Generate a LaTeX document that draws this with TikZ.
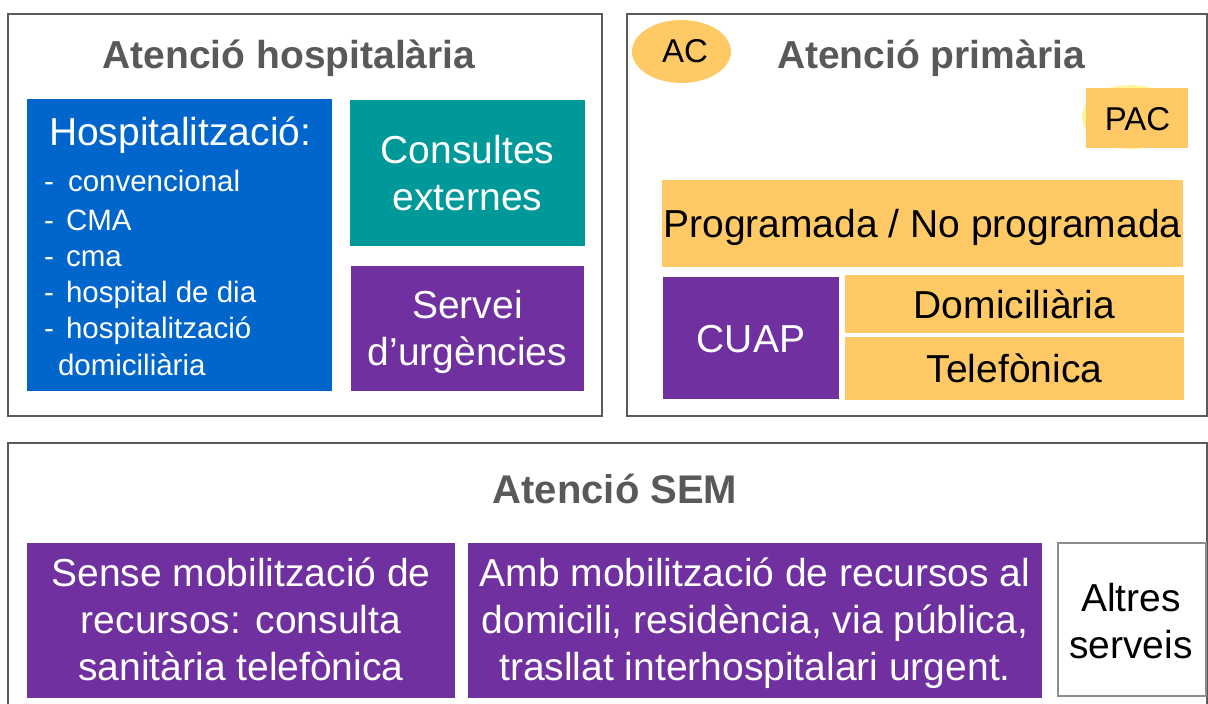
\documentclass[tikz,border=0pt]{standalone}
\usepackage{fontspec}
\setmainfont{Liberation Sans}
\usetikzlibrary{shapes.geometric}
\definecolor{hblue}{HTML}{0066CC}
\definecolor{hteal}{HTML}{009999}
\definecolor{hpurple}{HTML}{7030A0}
\definecolor{hyel}{HTML}{FFCA66}
\definecolor{hpale}{HTML}{FFF59A}
\definecolor{htitle}{HTML}{595959}
\definecolor{hframe}{HTML}{5A5A5A}
\definecolor{hgrayb}{HTML}{8C8C8C}
\newcommand\fsbody{\fontsize{39}{46.8}\selectfont}
\newcommand\fstitle{\fontsize{39}{46.8}\selectfont\bfseries}
\newcommand\fslist{\fontsize{29.5}{36.6}\selectfont}
\tikzset{
  box/.style={rectangle, inner sep=0pt, outer sep=0pt, anchor=north west, draw=none},
  frame/.style={rectangle, inner sep=0pt, outer sep=0pt, anchor=north west, draw=hframe, line width=2pt},
  txt/.style={inner sep=0pt, outer sep=0pt, anchor=base, align=center},
  ltxt/.style={inner sep=0pt, outer sep=0pt, anchor=base west},
  ttl/.style={txt, text=htitle, font=\fstitle},
}
\begin{document}
\begin{tikzpicture}[x=1pt,y=-1pt]
\path[use as bounding box] (0,0) rectangle (1208,704);
\clip (0,0) rectangle (1208,704);
\fill[white] (0,0) rectangle (1208,704);

% ---------- Atencio hospitalaria ----------
\node[frame, minimum width=594, minimum height=402] (hframe) at (8,14) {};
\node[ttl] (htitle) at (289,68) {Atenció hospitalària};
\node[box, fill=hblue, minimum width=305, minimum height=292] (hosp) at (27,99) {};
\node[ltxt, text=white, font=\fsbody] (hospt) at (49,145) {Hospitalització:};
\node[ltxt, text=white, font=\fslist] (d1) at (44,191) {-};
\node[ltxt, text=white, font=\fslist] (l1) at (68,191) {convencional};
\node[ltxt, text=white, font=\fslist] (d2) at (44,230) {-};
\node[ltxt, text=white, font=\fslist] (l2) at (66,230) {CMA};
\node[ltxt, text=white, font=\fslist] (d3) at (44,266) {-};
\node[ltxt, text=white, font=\fslist] (l3) at (66,266) {cma};
\node[ltxt, text=white, font=\fslist] (d4) at (44,302) {-};
\node[ltxt, text=white, font=\fslist] (l4) at (66,302) {hospital de dia};
\node[ltxt, text=white, font=\fslist] (d5) at (44,338) {-};
\node[ltxt, text=white, font=\fslist] (l5) at (66,338) {hospitalització};
\node[ltxt, text=white, font=\fslist] (l6) at (58,375) {domiciliària};

\node[box, fill=hteal, minimum width=235, minimum height=146] (cons) at (350,100) {};
\node[txt, text=white, font=\fsbody] (const) at (467.5,210) {Consultes\\externes};
\node[box, fill=hpurple, minimum width=233, minimum height=125] (urg) at (351,266) {};
\node[txt, text=white, font=\fsbody] (urgt) at (467.5,365) {Servei\\d’urgències};

% ---------- Atencio primaria ----------
\node[frame, minimum width=580, minimum height=402] (pframe) at (627,14) {};
\node[ellipse, fill=hyel, inner sep=0pt, minimum width=99, minimum height=63] (acell) at (681.5,51.5) {};
\node[txt, font=\fontsize{33}{40}\selectfont] (act) at (685,62) {AC};
\node[ttl] (ptitle) at (931,68) {Atenció primària};
\node[ellipse, fill=hpale, inner sep=0pt, minimum width=98, minimum height=64] (pacell) at (1131,117) {};
\node[box, fill=hyel, minimum width=102, minimum height=60] (pac) at (1086,88) {};
\node[txt, font=\fontsize{33}{40}\selectfont] (pact) at (1137.5,130) {PAC};
\node[box, fill=hyel, minimum width=521, minimum height=87] (prog) at (662,180) {};
\node[txt, font=\fsbody] (progt) at (922.5,237) {Programada / No programada};
\node[box, fill=hpurple, minimum width=176, minimum height=122] (cuap) at (663,277) {};
\node[txt, text=white, font=\fsbody] (cuapt) at (751,352) {CUAP};
\node[box, fill=hyel, minimum width=339, minimum height=58] (dom) at (845,275) {};
\node[txt, font=\fsbody] (domt) at (1014.5,318) {Domiciliària};
\node[box, fill=hyel, minimum width=339, minimum height=63] (tel) at (845,337) {};
\node[txt, font=\fsbody] (telt) at (1014.5,382) {Telefònica};

% ---------- Atencio SEM ----------
\node[frame, minimum width=1199, minimum height=280] (sframe) at (8,443) {};
\node[ttl, font=\fontsize{40}{48}\selectfont\bfseries] (stitle) at (615,503) {Atenció SEM};
\node[box, fill=hpurple, minimum width=428, minimum height=155] (sense) at (27,543) {};
\node[txt, text=white, font=\fsbody] (senset) at (241,680) {Sense mobilització de\\recursos: consulta\\sanitària telefònica};
\node[box, fill=hpurple, minimum width=574, minimum height=155] (amb) at (468,543) {};
\node[txt, text=white, font=\fsbody] (ambt) at (755,680) {Amb mobilització de recursos al\\domicili, residència, via pública,\\trasllat interhospitalari urgent.};
\node[box, draw=hgrayb, line width=1.5pt, fill=white, minimum width=148, minimum height=153] (alt) at (1058,543) {};
\node[txt, font=\fsbody] (altt) at (1131,658) {Altres\\serveis};
\end{tikzpicture}
\end{document}
